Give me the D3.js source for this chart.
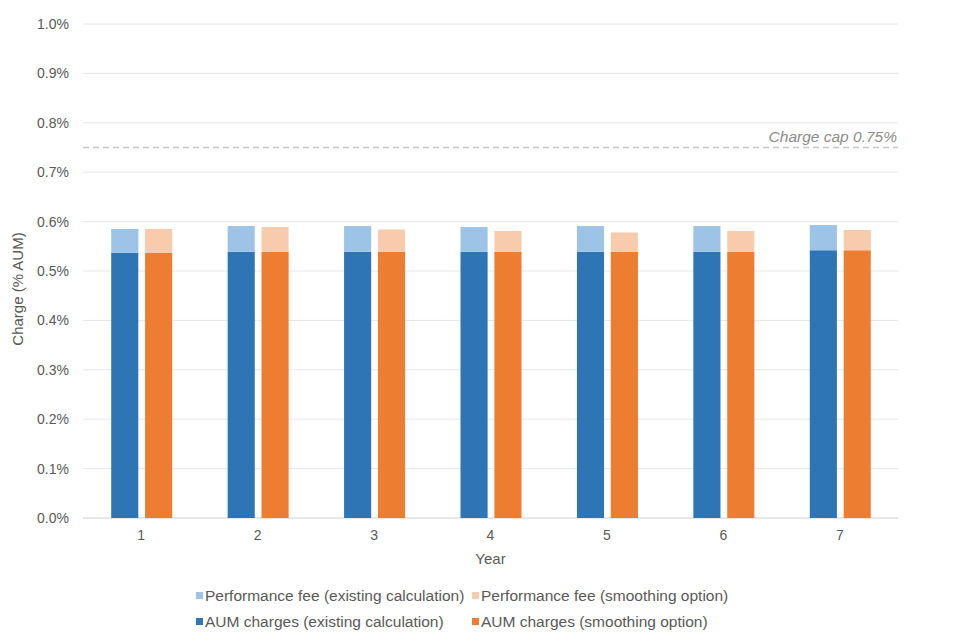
<!DOCTYPE html>
<html>
<head>
<meta charset="utf-8">
<script src="https://cdn.jsdelivr.net/npm/d3@7"></script>
<style>
  body { margin: 0; background: #fff; font-family: "Liberation Sans", Arial, sans-serif; }
</style>
</head>
<body>
<div id="chart"></div>
<script>
const years = ["1", "2", "3", "4", "5", "6", "7"];
const aumExisting = [0.537, 0.539, 0.539, 0.539, 0.539, 0.539, 0.542];
const perfExisting = [0.048, 0.052, 0.052, 0.050, 0.052, 0.052, 0.051];
const aumSmoothing = [0.537, 0.539, 0.539, 0.539, 0.539, 0.539, 0.542];
const perfSmoothing = [0.048, 0.050, 0.045, 0.042, 0.039, 0.042, 0.041];
const yTicks = [0, 0.1, 0.2, 0.3, 0.4, 0.5, 0.6, 0.7, 0.8, 0.9, 1.0];
const chargeCap = 0.75;

const W = 960, H = 640;
const margin = { top: 24, right: 62, bottom: 122, left: 83 };
const width = W - margin.left - margin.right,
    height = H - margin.top - margin.bottom;

const svg = d3.select("#chart").append("svg")
    .attr("width", W).attr("height", H);
const g = svg.append("g")
    .attr("transform", "translate(" + margin.left + "," + margin.top + ")");

const x = d3.scaleBand().domain(years).range([0, width]);
const sub = d3.scaleBand().domain(["existing", "smoothing"])
    .range([x.bandwidth() / 2 - 30, x.bandwidth() / 2 + 31])
    .paddingInner(0.2).paddingOuter(0);
const y = d3.scaleLinear().domain([0, 1.0]).range([height, 0]);

// gridlines
g.append("g").selectAll("line").data(yTicks).enter().append("line")
    .attr("x1", 0).attr("x2", width)
    .attr("y1", d => y(d)).attr("y2", d => y(d))
    .attr("stroke", d => d === 0 ? "#d0d0d0" : "#e6e6e6")
    .attr("stroke-width", 1);

// y axis
const yAxis = g.append("g")
    .call(d3.axisLeft(y).tickValues(yTicks).tickSize(0).tickPadding(14)
        .tickFormat(d => d.toFixed(1) + "%"));
yAxis.select(".domain").remove();
yAxis.selectAll("text").attr("fill", "#595959").style("font-size", "14px");

// x axis
const xAxis = g.append("g")
    .attr("transform", "translate(0," + height + ")")
    .call(d3.axisBottom(x).tickSize(0).tickPadding(12));
xAxis.select(".domain").remove();
xAxis.selectAll("text").attr("fill", "#595959").style("font-size", "14px");

// bars
const groups = [
    { key: "existing", base: aumExisting, top: perfExisting, c1: "#2E75B6", c2: "#9DC3E6" },
    { key: "smoothing", base: aumSmoothing, top: perfSmoothing, c1: "#ED7D31", c2: "#F8CBAD" }
];
groups.forEach(s => {
    const gg = g.append("g");
    years.forEach((yr, i) => {
        const x0 = x(yr) + sub(s.key);
        gg.append("rect")
            .attr("x", x0).attr("width", sub.bandwidth())
            .attr("y", y(s.base[i])).attr("height", y(0) - y(s.base[i]))
            .attr("fill", s.c1);
        gg.append("rect")
            .attr("x", x0).attr("width", sub.bandwidth())
            .attr("y", y(s.base[i] + s.top[i])).attr("height", y(s.base[i]) - y(s.base[i] + s.top[i]))
            .attr("fill", s.c2);
    });
});

// charge cap
g.append("line")
    .attr("x1", 0).attr("x2", width)
    .attr("y1", y(chargeCap)).attr("y2", y(chargeCap))
    .attr("stroke", "#c8c8c8").attr("stroke-width", 1.5)
    .attr("stroke-dasharray", "6,4");
g.append("text")
    .attr("x", width - 1).attr("y", y(chargeCap) - 6)
    .attr("text-anchor", "end")
    .attr("fill", "#8c8c8c").style("font-size", "15.5px").style("font-style", "italic")
    .text("Charge cap 0.75%");

// axis titles
svg.append("text")
    .attr("transform", "translate(23,289) rotate(-90)")
    .attr("text-anchor", "middle")
    .attr("fill", "#595959").style("font-size", "15px")
    .text("Charge (% AUM)");
svg.append("text")
    .attr("x", margin.left + width / 2).attr("y", 564)
    .attr("text-anchor", "middle")
    .attr("fill", "#595959").style("font-size", "15px")
    .text("Year");

// legend
const legend = [
    { label: "Performance fee (existing calculation)", color: "#9DC3E6", x: 196, y: 595 },
    { label: "Performance fee (smoothing option)", color: "#F8CBAD", x: 472, y: 595 },
    { label: "AUM charges (existing calculation)", color: "#2E75B6", x: 196, y: 621 },
    { label: "AUM charges (smoothing option)", color: "#ED7D31", x: 472, y: 621 }
];
const lg = svg.append("g").selectAll("g").data(legend).enter().append("g")
    .attr("transform", d => "translate(" + d.x + "," + d.y + ")");
lg.append("rect").attr("x", 0).attr("y", -3).attr("width", 7).attr("height", 7)
    .attr("fill", d => d.color);
lg.append("text").attr("x", 9).attr("y", 5.5)
    .attr("fill", "#595959").style("font-size", "15.5px")
    .text(d => d.label);
</script>
</body>
</html>
